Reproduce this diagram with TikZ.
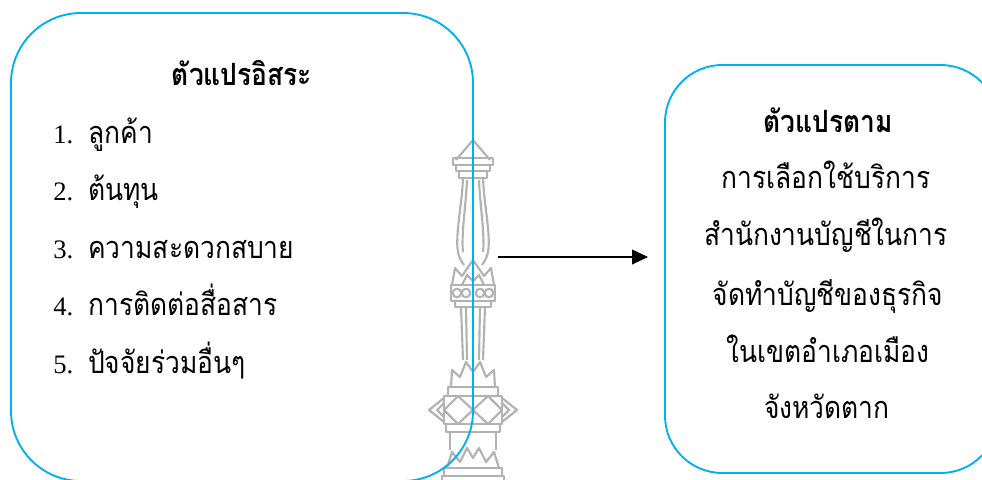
\documentclass[tikz,border=0pt]{standalone}
\usepackage{fontspec}
\setmainfont{Liberation Serif}
\newfontfamily\thaifont[Script=Thai, FakeStretch=0.86]{Loma}
\usetikzlibrary{arrows.meta}
\definecolor{boxblue}{RGB}{0,176,240}
\definecolor{markgray}{RGB}{178,178,178}
\begin{document}
\begin{tikzpicture}[x=0.75pt,y=-0.75pt,
  panel/.style={draw=boxblue, line width=1.4pt, inner sep=0pt, outer sep=0pt},
  thaitext/.style={anchor=base, inner sep=0pt, text=black,
    font=\thaifont\fontsize{23}{27}\selectfont},
  thaihead/.style={thaitext, font=\thaifont\bfseries\fontsize{23}{27}\selectfont},
  itemtext/.style={thaitext, anchor=base west},
  itemnum/.style={anchor=base west, inner sep=0pt, text=black,
    font=\fontsize{20}{24}\selectfont},
  emblemline/.style={draw=markgray, line width=1.6pt, line join=round}]
\clip (0,0) rectangle (982,479);

% emblem drawn faintly behind the panels
\begin{scope}[emblemline]
  \draw (456,160) -- (473,140) -- (490,160);
  \draw (453,158) rectangle (493,165);
  \draw (456,165) rectangle (490,171);
  \draw (459,171) rectangle (487,178);
  \draw (463,178) .. controls (462,205) and (455,235) .. (458,252) .. controls (459,258) and (462,262) .. (464,265);
  \draw (483,178) .. controls (484,205) and (491,235) .. (488,252) .. controls (487,258) and (484,262) .. (482,265);
  \draw (467,180) .. controls (466,205) and (461,235) .. (463,252);
  \draw (479,180) .. controls (480,205) and (485,235) .. (483,252);
  \draw (452,285) -- (455,268) -- (462,276) -- (473,260) -- (484,276) -- (491,268) -- (494,285);
  \draw (462,285) -- (467,275) -- (473,281) -- (479,275) -- (484,285);
  \draw (451,285) rectangle (495,301);
  \foreach \bx in {457,466,480,489} \draw (\bx,293) circle (3.2pt);
  \draw (455,301) rectangle (491,307);
  \draw (461,307) -- (463,360);
  \draw (485,307) -- (483,360);
  \draw (466,307) -- (467,360);
  \draw (480,307) -- (479,360);
  \draw (451,387) -- (452,370) -- (460,377) -- (466,362) -- (473,372) -- (480,362) -- (486,377) -- (494,370) -- (495,387);
  \draw (448,387) rectangle (498,396);
  \draw (444,396) rectangle (502,424);
  \draw (444,410) -- (458,396) -- (473,410) -- (458,424) -- cycle;
  \draw (473,410) -- (488,396) -- (502,410) -- (488,424) -- cycle;
  \draw (444,398) -- (429,410) -- (444,422);
  \draw (444,403) -- (437,410) -- (444,417);
  \draw (502,398) -- (517,410) -- (502,422);
  \draw (502,403) -- (509,410) -- (502,417);
  \draw (446,424) rectangle (500,432);
  \draw (450,432) -- (450,450);
  \draw (496,432) -- (496,450);
  \draw (447,468) -- (452,452) -- (460,462) -- (467,448) -- (473,458) -- (479,448) -- (486,462) -- (494,452) -- (499,468);
  \draw (444,468) rectangle (502,476);
  \draw (442,476) rectangle (504,484);
\end{scope}

% panels
\node[panel, rounded corners=52.5pt, minimum width=462*0.75pt, minimum height=468*0.75pt]
  (indep) at (242,247) {};
\node[panel, rounded corners=43pt, minimum width=333*0.75pt, minimum height=408*0.75pt]
  (dep) at (831.5,269) {};

% independent variables
\node[thaihead] (indeptitle) at (242,85) {ตัวแปรอิสระ};
\node[itemnum] (n1) at (53,143) {1.};
\node[itemnum] (n2) at (53,200) {2.};
\node[itemnum] (n3) at (53,258) {3.};
\node[itemnum] (n4) at (53,315) {4.};
\node[itemnum] (n5) at (53,373) {5.};
\node[itemtext] (t1) at (88,143) {ลูกค้า};
\node[itemtext] (t2) at (88,200) {ต้นทุน};
\node[itemtext] (t3) at (88,258) {ความสะดวกสบาย};
\node[itemtext] (t4) at (88,315) {การติดต่อสื่อสาร};
\node[itemtext] (t5) at (88,373) {ปัจจัยร่วมอื่นๆ};

% dependent variable
\node[thaihead] (deptitle) at (828,132) {ตัวแปรตาม};
\node[thaitext] (d1) at (826,188) {การเลือกใช้บริการ};
\node[thaitext] (d2) at (826,245) {สำนักงานบัญชีในการ};
\node[thaitext] (d3) at (828,305) {จัดทำบัญชีของธุรกิจ};
\node[thaitext] (d4) at (828,362) {ในเขตอำเภอเมือง};
\node[thaitext] (d5) at (827,418) {จังหวัดตาก};

% link
\coordinate (arrS) at (498,257);
\coordinate (arrE) at (648,257);
\draw[line width=1.5pt, -{Triangle[length=12pt,width=11pt]}] (arrS) -- (arrE);
\end{tikzpicture}
\end{document}
